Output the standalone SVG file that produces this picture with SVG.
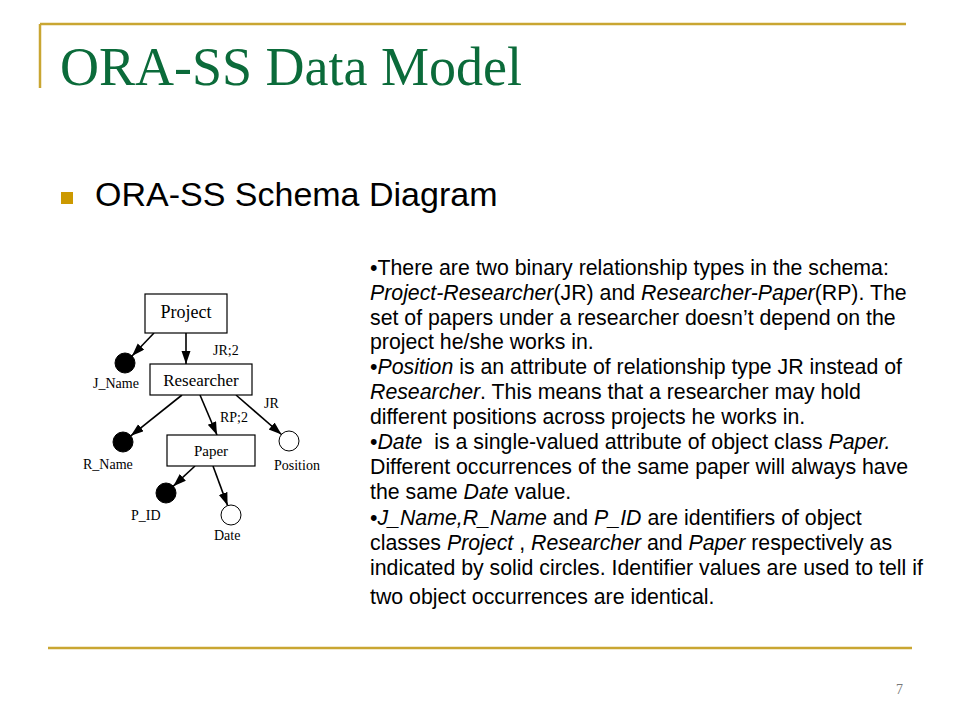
<svg xmlns="http://www.w3.org/2000/svg" width="960" height="720" viewBox="0 0 960 720">
<defs>
<style>
.rule{stroke:#C9A632;stroke-width:2.5;fill:none}
.title{font-family:"Liberation Serif","Times New Roman",serif;font-size:54px;fill:#0B6B3A}
.sub{font-family:"Liberation Sans",Arial,sans-serif;font-size:34px;fill:#000}
.body{font-family:"Liberation Sans",Arial,sans-serif;font-size:21.3px;fill:#000;white-space:pre}
.it{font-style:italic}
.box{fill:#fff;stroke:#000;stroke-width:1.2}
.dot{fill:#000;stroke:#000;stroke-width:1}
.open{fill:#fff;stroke:#000;stroke-width:1}
.lbl{font-family:"Liberation Serif","Times New Roman",serif;font-size:14px;fill:#000}
.conn line{stroke:#000;stroke-width:1.6;marker-end:url(#ah)}
</style>
<marker id="ah" markerUnits="userSpaceOnUse" markerWidth="14" markerHeight="10" refX="13" refY="4.5" orient="auto">
<path d="M0,0 L13,4.5 L0,9 z" fill="#000"/>
</marker>
</defs>
<rect width="960" height="720" fill="#fff"/>
<g id="frame">
<line class="rule" x1="40" y1="24" x2="906" y2="24"/>
<line class="rule" x1="40" y1="24" x2="40" y2="88"/>
<line class="rule" x1="48" y1="648" x2="912" y2="648"/>
</g>
<text class="title" x="60" y="85">ORA-SS Data Model</text>
<rect x="61" y="192" width="12" height="12" fill="#CC9900"/>
<text class="sub" x="95" y="206">ORA-SS Schema Diagram</text>
<text x="896" y="694" font-family="Liberation Serif, serif" font-size="14" fill="#777">7</text>

<g id="connectors" class="conn">
<line x1="154" y1="333" x2="132" y2="356"/>
<line x1="186" y1="333" x2="186" y2="364"/>
<line x1="182" y1="395" x2="130.8" y2="435.8"/>
<line x1="200" y1="395" x2="217" y2="435"/>
<line x1="236" y1="395" x2="281.5" y2="434.5"/>
<line x1="195" y1="466" x2="173.3" y2="486.2"/>
<line x1="213" y1="466" x2="227.6" y2="505.6"/>
</g>
<g id="edge-labels">
<text class="lbl" x="213" y="355">JR;2</text>
<text class="lbl" x="220" y="422">RP;2</text>
<text class="lbl" x="264" y="408">JR</text>
</g>
<g id="project">
<rect class="box" x="145" y="294" width="82" height="39"/>
<text x="186" y="318" text-anchor="middle" font-family="Liberation Serif, serif" font-size="18">Project</text>
</g>
<g id="researcher">
<rect class="box" x="150" y="364" width="102" height="31"/>
<text x="201" y="386" text-anchor="middle" font-family="Liberation Serif, serif" font-size="17">Researcher</text>
</g>
<g id="paper">
<rect class="box" x="167" y="435" width="88" height="31"/>
<text x="211" y="456" text-anchor="middle" font-family="Liberation Serif, serif" font-size="15">Paper</text>
</g>
<g id="j_name">
<circle class="dot" cx="125" cy="363" r="10"/>
<text class="lbl" x="93" y="388">J_Name</text>
</g>
<g id="r_name">
<circle class="dot" cx="123" cy="442" r="10"/>
<text class="lbl" x="83" y="469">R_Name</text>
</g>
<g id="position">
<circle class="open" cx="289" cy="441" r="10"/>
<text class="lbl" x="274" y="470">Position</text>
</g>
<g id="p_id">
<circle class="dot" cx="166" cy="493" r="10"/>
<text class="lbl" x="131" y="520">P_ID</text>
</g>
<g id="date">
<circle class="open" cx="231" cy="515" r="10"/>
<text class="lbl" x="214" y="540">Date</text>
</g>

<g id="notes" class="body">
<text class="body" x="370" y="275">•There are two binary relationship types in the schema:</text>
<text class="body" x="370" y="300"><tspan class="it">Project-Researcher</tspan>(JR) and <tspan class="it">Researcher-Paper</tspan>(RP). The</text>
<text class="body" x="370" y="325">set of papers under a researcher doesn’t depend on the</text>
<text class="body" x="370" y="349">project he/she works in.</text>
<text class="body" x="370" y="374">•<tspan class="it">Position</tspan> is an attribute of relationship type JR instead of</text>
<text class="body" x="370" y="399"><tspan class="it">Researcher</tspan>. This means that a researcher may hold</text>
<text class="body" x="370" y="424">different positions across projects he works in.</text>
<text class="body" x="370" y="449">•<tspan class="it">Date</tspan>  is a single-valued attribute of object class <tspan class="it">Paper.</tspan></text>
<text class="body" x="370" y="474">Different occurrences of the same paper will always have</text>
<text class="body" x="370" y="499">the same <tspan class="it">Date</tspan> value.</text>
<text class="body" x="370" y="525">•<tspan class="it">J_Name,R_Name</tspan> and <tspan class="it">P_ID</tspan> are identifiers of object</text>
<text class="body" x="370" y="550">classes <tspan class="it">Project</tspan> , <tspan class="it">Researcher</tspan> and <tspan class="it">Paper</tspan> respectively as</text>
<text class="body" x="370" y="575">indicated by solid circles. Identifier values are used to tell if</text>
<text class="body" x="370" y="604">two object occurrences are identical.</text>
</g>
</svg>
